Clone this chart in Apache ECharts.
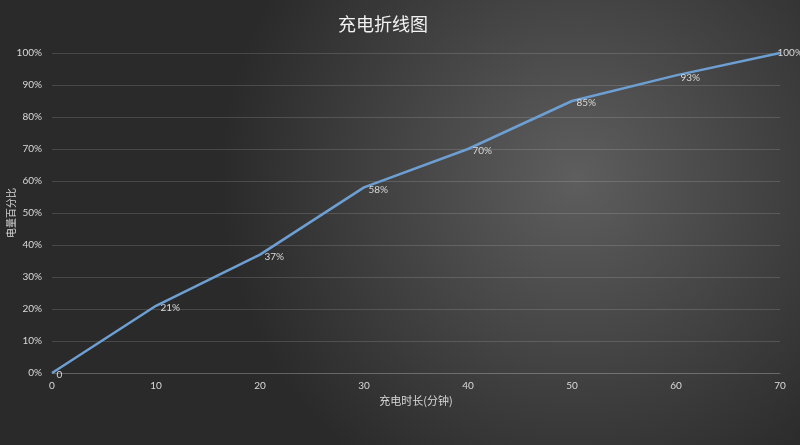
<!DOCTYPE html>
<html>
<head>
<meta charset="utf-8">
<script src="https://cdn.jsdelivr.net/npm/echarts@6/dist/echarts.min.js"></script>
<style>
  html, body { margin: 0; padding: 0; }
  #main { width: 800px; height: 445px; }
</style>
</head>
<body>
<div id="main"></div>
<script>
// 充电时长(分钟) 与 电量百分比
var minutes = [0, 10, 20, 30, 40, 50, 60, 70];
var percent = [0, 21, 37, 58, 70, 85, 93, 100];

var chart = echarts.init(document.getElementById('main'));

var txt = '#d9d9d9';
var cjk = '"Noto Sans CJK SC", sans-serif';
var latin = 'Lato, "Noto Sans CJK SC", sans-serif';

var points = minutes.map(function (m, i) {
    var item = { value: [m, percent[i]] };
    // 最后一个点的标签贴着右边, 往左挪一点免得被裁掉
    if (i === minutes.length - 1) {
        item.label = { offset: [-7, 0] };
    }
    return item;
});

chart.setOption({
    backgroundColor: new echarts.graphic.RadialGradient(0.72, 0.4, 0.8, [
        { offset: 0, color: '#5e5e5e' },
        { offset: 1, color: '#2a2a2a' }
    ]),
    title: {
        text: '充电折线图',
        left: 378,
        top: 10,
        textAlign: 'center',
        textStyle: {
            color: '#f2f2f2',
            fontSize: 18,
            fontWeight: 'normal',
            fontFamily: cjk
        }
    },
    grid: {
        left: 52,
        right: 20,
        top: 53,
        bottom: 72,
        containLabel: false,
        outerBoundsMode: 'none'
    },
    xAxis: {
        type: 'value',
        min: 0,
        max: 70,
        interval: 10,
        name: '充电时长(分钟)',
        nameLocation: 'middle',
        nameGap: 22,
        nameMoveOverlap: false,
        nameTextStyle: { color: txt, fontSize: 11, fontFamily: cjk },
        axisLine: { show: true, lineStyle: { color: 'rgba(255,255,255,0.14)', width: 1 } },
        axisTick: { show: false },
        splitLine: { show: false },
        axisLabel: { color: txt, fontSize: 10, fontFamily: latin, margin: 8 }
    },
    yAxis: {
        type: 'value',
        min: 0,
        max: 100,
        interval: 10,
        name: '电量百分比',
        nameLocation: 'middle',
        nameGap: 36,
        nameMoveOverlap: false,
        nameTextStyle: { color: txt, fontSize: 10, fontFamily: cjk },
        axisLine: { show: false },
        axisTick: { show: false },
        splitLine: { lineStyle: { color: 'rgba(255,255,255,0.14)', width: 1 } },
        axisLabel: {
            color: txt,
            fontSize: 10,
            fontFamily: latin,
            margin: 10,
            formatter: '{value}%'
        }
    },
    series: [{
        name: '电量百分比',
        type: 'line',
        data: points,
        symbol: 'circle',
        symbolSize: 1,
        showSymbol: true,
        itemStyle: { color: 'rgba(0,0,0,0)' },
        lineStyle: { color: '#6e9fd3', width: 2.5 },
        label: {
            show: true,
            position: 'right',
            distance: 4,
            offset: [0, 2],
            color: txt,
            fontSize: 10,
            fontFamily: latin,
            formatter: function (p) {
                return p.value[1] === 0 ? '0' : p.value[1] + '%';
            }
        },
        animation: false
    }]
});
</script>
</body>
</html>
